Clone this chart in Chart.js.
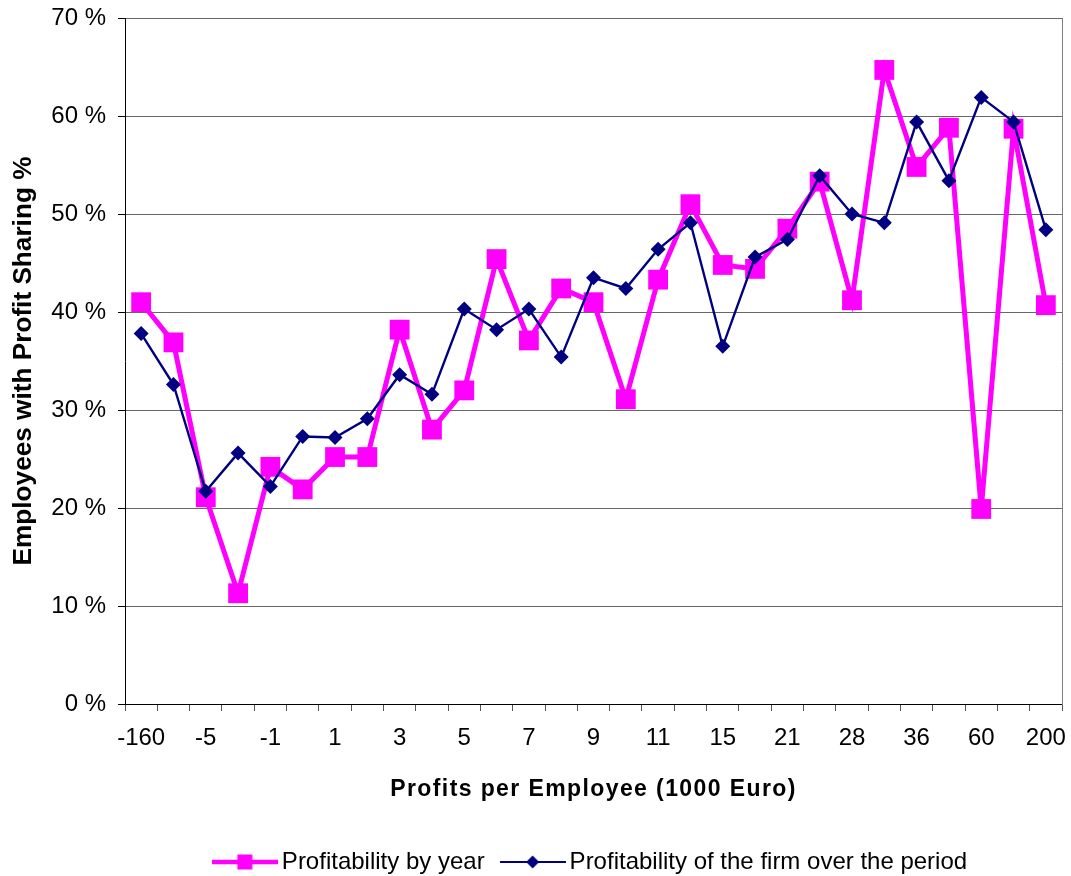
<!DOCTYPE html>
<html><head><meta charset="utf-8">
<script src="https://cdn.jsdelivr.net/npm/chart.js@4/dist/chart.umd.min.js"></script>
<style>html,body{margin:0;padding:0;background:#fff}</style>
</head><body>
<canvas id="c" width="1071" height="876"></canvas>
<script>
// Categories: profits per employee (1000 Euro); only every other label is printed
const categories = ['-160','','-5','','-1','','1','','3','','5','','7','','9','','11','','15','','21','','28','','36','','60','','200'];
// Employees with profit sharing (%)
const byYear = [41.0, 36.9, 21.1, 11.3, 24.2, 21.9, 25.2, 25.2, 38.2, 28.0, 32.0, 45.4, 37.1, 42.4, 41.0, 31.1, 43.3, 51.0, 44.8, 44.4, 48.5, 53.3, 41.2, 64.7, 54.8, 58.8, 19.9, 58.7, 40.7];
const firmPeriod = [37.8, 32.6, 21.7, 25.6, 22.2, 27.3, 27.2, 29.1, 33.6, 31.6, 40.3, 38.2, 40.3, 35.4, 43.5, 42.4, 46.4, 49.1, 36.5, 45.6, 47.4, 53.9, 50.0, 49.1, 59.4, 53.4, 61.9, 59.4, 48.4];
const seriesNames = ['Profitability by year', 'Profitability of the firm over the period'];
const yMin = 0, yMax = 70, yStep = 10;

const FONT = "'Liberation Sans', Arial, sans-serif";
const PINK = '#FF00FF', NAVY = '#000080';

function legendIcon(color, lineW, kind, size) {
  const c = document.createElement('canvas');
  c.width = 66; c.height = 18;
  const g = c.getContext('2d');
  g.strokeStyle = color; g.lineWidth = lineW;
  g.beginPath(); g.moveTo(0, 9); g.lineTo(66, 9); g.stroke();
  g.fillStyle = color;
  if (kind === 'square') {
    g.fillRect(33 - size / 2, 9 - size / 2, size, size);
  } else {
    const h = size / 2;
    g.beginPath(); g.moveTo(33 - h, 9); g.lineTo(33, 9 - h); g.lineTo(33 + h, 9); g.lineTo(33, 9 + h); g.closePath(); g.fill();
  }
  return c;
}
const icons = [legendIcon(PINK, 4.5, 'square', 15), legendIcon(NAVY, 2.2, 'diamond', 13)];

Chart.defaults.color = '#000';
Chart.defaults.font.family = FONT;

const xTitleSpacing = {
  id: 'xTitleSpacing',
  beforeDraw(chart) {
    const s = chart.scales.x;
    if (s && !s._spaced) {
      const orig = s.drawTitle;
      s.drawTitle = function () {
        const ctx = this.ctx; ctx.save(); ctx.letterSpacing = '1.4px'; orig.call(this); ctx.restore();
      };
      s._spaced = true;
    }
  }
};

new Chart(document.getElementById('c'), {
  type: 'line',
  data: {
    labels: categories,
    datasets: [
      { label: seriesNames[0], data: byYear, borderColor: PINK, backgroundColor: PINK, borderWidth: 5,
        pointStyle: 'rect', pointRadius: 14, pointBorderWidth: 0, pointBackgroundColor: PINK, tension: 0, order: 2 },
      { label: seriesNames[1], data: firmPeriod, borderColor: NAVY, backgroundColor: NAVY, borderWidth: 2.4,
        pointStyle: 'rectRot', pointRadius: 7.5, pointBorderWidth: 0, pointBackgroundColor: NAVY, tension: 0, order: 1 }
    ]
  },
  options: {
    responsive: false,
    animation: false,
    devicePixelRatio: 1,
    layout: { autoPadding: false, padding: { top: 18, right: 9, bottom: -8, left: 0 } },
    scales: {
      x: {
        offset: true,
        grid: { drawOnChartArea: false, drawTicks: true, tickLength: 7, offset: true, color: '#555' },
        border: { color: '#000', width: 1 },
        ticks: { autoSkip: false, maxRotation: 0, minRotation: 0, padding: 0, font: { size: 24, lineHeight: 2.25 }, color: '#000' },
        title: { display: true, text: 'Profits per Employee (1000 Euro)', font: { size: 23, weight: 'bold' },
                 color: '#000', padding: { top: 0, bottom: 24 } },
        afterFit(s) { s.height = 123; s.paddingLeft = 0; s.paddingRight = 0; }
      },
      y: {
        min: yMin, max: yMax,
        ticks: { stepSize: yStep, padding: 12, font: { size: 24 }, color: '#000', callback: v => v + ' %' },
        grid: { color: '#666', tickColor: '#000', tickLength: 7, drawTicks: true },
        border: { color: '#000', width: 1 },
        title: { display: true, text: 'Employees with Profit Sharing %', font: { size: 26.2, weight: 'bold' },
                 color: '#000', padding: { top: 8, bottom: 0 } },
        afterFit(s) { s.width = 125; s.paddingTop = 0; s.paddingBottom = 0; }
      },
      y2: {
        position: 'right', min: yMin, max: yMax,
        ticks: { display: false },
        grid: { drawOnChartArea: false, drawTicks: false },
        border: { color: '#808080', width: 1 },
        afterFit(s) { s.width = 0; }
      }
    },
    plugins: {
      tooltip: { enabled: false },
      legend: {
        position: 'bottom',
        fullSize: false,
        labels: {
          usePointStyle: true,
          pointStyleWidth: 50,
          padding: 23,
          font: { size: 24 },
          color: '#000',
          generateLabels(chart) {
            return chart.data.datasets.map((ds, i) => ({
              text: ds.label, fillStyle: ds.borderColor, strokeStyle: ds.borderColor,
              lineWidth: 0, pointStyle: icons[i], hidden: false, datasetIndex: i, fontColor: '#000'
            }));
          }
        }
      }
    }
  },
  plugins: [xTitleSpacing]
});
</script>
</body></html>
